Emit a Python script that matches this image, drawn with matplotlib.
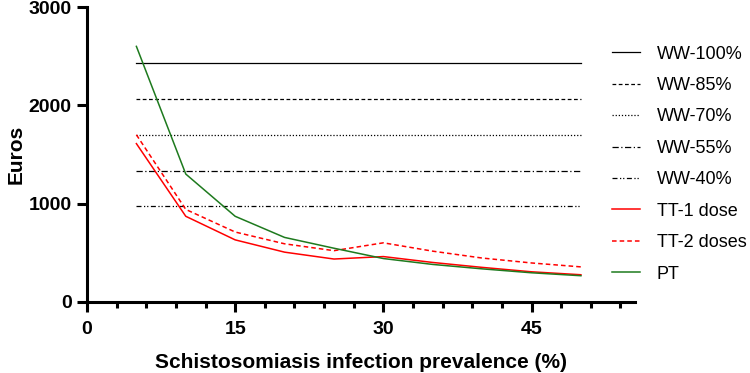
import matplotlib
matplotlib.use('Agg')
from matplotlib import pyplot as plt
from matplotlib.ticker import MultipleLocator
import numpy as np

plt.rcParams['font.family'] = ['Liberation Sans', 'DejaVu Sans']

prevalence = [5, 10, 15, 20, 25, 30, 35, 40, 45, 50]
ww_levels = ['WW-100%', 'WW-85%', 'WW-70%', 'WW-55%', 'WW-40%']
ww_costs = [2430, 2065, 1700, 1336, 972]
tt1 = [1610, 870, 630, 505, 435, 460, 400, 350, 305, 275]
tt2 = [1700, 940, 710, 590, 520, 600, 515, 445, 395, 355]
pt = [2600, 1300, 870, 655, 545, 440, 380, 335, 295, 265]

ww_styles = ['-', (0, (3, 2)), (0, (1, 1.5)), (0, (5, 2, 1, 2)), (0, (4, 2, 1, 1.5, 1, 2))]

fig = plt.figure(figsize=(7.5, 3.73), dpi=100)
ax = fig.add_axes([0.116, 0.191, 0.731, 0.79])

for lab, c, ls in zip(ww_levels, ww_costs, ww_styles):
    ax.plot([prevalence[0], prevalence[-1]], [c, c], color='black', lw=0.9, ls=ls, label=lab)
ax.plot(prevalence, tt1, color='#ff0000', lw=1.1, label='TT-1 dose')
ax.plot(prevalence, tt2, color='#ff0000', lw=1.1, ls=(0, (3, 2)), label='TT-2 doses')
ax.plot(prevalence, pt, color='#1e7a1e', lw=1.1, label='PT')

ax.set_xlim(0, 55.5)
ax.set_ylim(0, 3000)
ax.set_xticks([0, 15, 30, 45])
ax.xaxis.set_minor_locator(MultipleLocator(3))
ax.set_yticks([0, 1000, 2000, 3000])

for s in ['top', 'right']:
    ax.spines[s].set_visible(False)
for s in ['left', 'bottom']:
    ax.spines[s].set_linewidth(2.2)
ax.tick_params(which='major', width=2.2, length=7, labelsize=14, pad=4)
ax.tick_params(axis='x', which='major', pad=7)
ax.tick_params(which='minor', width=2.2, length=4.5)
for t in ax.get_xticklabels() + ax.get_yticklabels():
    t.set_fontweight('bold')

ax.set_xlabel('Schistosomiasis infection prevalence (%)', fontsize=15, fontweight='bold', labelpad=11)
ax.set_ylabel('Euros', fontsize=15, fontweight='bold', labelpad=2)

fig.legend(*ax.get_legend_handles_labels(), loc='center left', bbox_to_anchor=(0.816, 0.56),
           frameon=False, fontsize=13, handlelength=1.55, handletextpad=0.92,
           labelspacing=0.8, borderpad=0, borderaxespad=0)

fig.savefig('out.png', dpi=100)
